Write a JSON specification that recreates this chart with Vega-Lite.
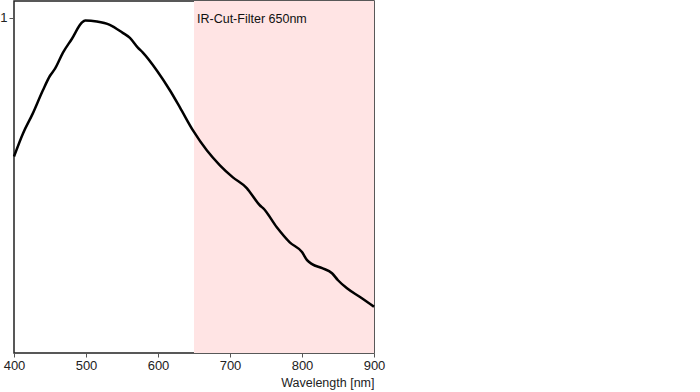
{
  "$schema": "https://vega.github.io/schema/vega-lite/v6.json",
  "autosize": {"type": "none"},
  "padding": {"left": 14, "top": 1, "right": 326, "bottom": 39},
  "width": 360,
  "height": 352,
  "config": {
    "view": {"stroke": "#222", "strokeWidth": 1.5},
    "font": "Liberation Sans",
    "axis": {"grid": false, "domain": false, "tickColor": "#555", "labelColor": "#222", "labelFontSize": 13, "titleFontSize": 12.5, "titleFontWeight": "normal", "titleColor": "#222", "labelFont": "Liberation Sans", "titleFont": "Liberation Sans"}
  },
  "datasets": {
    "curve": [
      {"w": 400, "v": 0.586}, {"w": 412.5, "v": 0.655}, {"w": 426, "v": 0.714}, {"w": 440, "v": 0.783},
      {"w": 450, "v": 0.827}, {"w": 457, "v": 0.848}, {"w": 468, "v": 0.896}, {"w": 480.5, "v": 0.9375},
      {"w": 494, "v": 0.985}, {"w": 499, "v": 0.992}, {"w": 515, "v": 0.989}, {"w": 533, "v": 0.979},
      {"w": 551, "v": 0.955}, {"w": 561, "v": 0.94}, {"w": 572, "v": 0.911}, {"w": 579, "v": 0.896},
      {"w": 598.6, "v": 0.842}, {"w": 616.7, "v": 0.783}, {"w": 630.6, "v": 0.732}, {"w": 648.6, "v": 0.664},
      {"w": 668, "v": 0.604}, {"w": 686, "v": 0.56}, {"w": 704, "v": 0.524}, {"w": 723.6, "v": 0.491},
      {"w": 728, "v": 0.479}, {"w": 741.7, "v": 0.44}, {"w": 746, "v": 0.432}, {"w": 765, "v": 0.375},
      {"w": 783, "v": 0.33}, {"w": 800, "v": 0.301}, {"w": 807, "v": 0.277}, {"w": 814, "v": 0.265},
      {"w": 828, "v": 0.253}, {"w": 841.7, "v": 0.238}, {"w": 850, "v": 0.217}, {"w": 862.5, "v": 0.193},
      {"w": 880.6, "v": 0.167}, {"w": 900, "v": 0.138}
    ],
    "band": [{"x1": 650, "x2": 900, "label": "IR-Cut-Filter 650nm", "ty": 0.997}]
  },
  "layer": [
    {
      "data": {"name": "band"},
      "mark": {"type": "rect", "color": "#ffe4e4", "y": 0, "y2": {"expr": "height"}},
      "encoding": {
        "x": {"field": "x1", "type": "quantitative", "scale": {"domain": [400, 900], "nice": false, "zero": false}},
        "x2": {"field": "x2"}
      }
    },
    {
      "data": {"name": "band"},
      "mark": {"type": "text", "align": "left", "baseline": "middle", "dx": 3, "fontSize": 12.5, "color": "#111", "font": "Liberation Sans"},
      "encoding": {
        "x": {"field": "x1", "type": "quantitative"},
        "y": {"field": "ty", "type": "quantitative"},
        "text": {"field": "label"}
      }
    },
    {
      "data": {"name": "curve"},
      "mark": {"type": "line", "color": "#000", "strokeWidth": 2.5, "interpolate": "monotone"},
      "encoding": {
        "x": {"field": "w", "type": "quantitative", "scale": {"domain": [400, 900], "nice": false, "zero": false},
              "axis": {"values": [400, 500, 600, 700, 800, 900], "format": "d", "title": "Wavelength [nm]", "titleAnchor": "end", "tickSize": 4, "labelPadding": 2, "titlePadding": 4, "labelFlush": false}},
        "y": {"field": "v", "type": "quantitative", "scale": {"domain": [0, 1.05], "nice": false},
              "axis": {"values": [1], "format": "d", "title": null, "tickSize": 5, "labelPadding": 2}}
      }
    }
  ]
}
